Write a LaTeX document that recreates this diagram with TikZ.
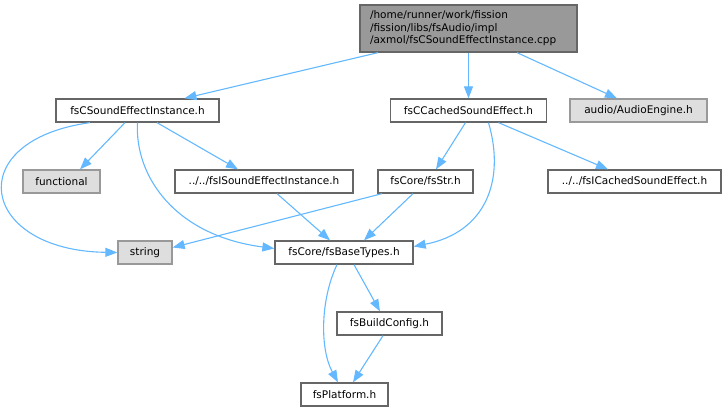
\documentclass[tikz,border=0pt]{standalone}
\usepackage{fontspec}
\setmainfont{DejaVu Sans}
\usetikzlibrary{arrows.meta}
\definecolor{inclblue}{HTML}{63B8FF}
\definecolor{boxgray}{HTML}{666666}
\definecolor{sysgray}{HTML}{999999}
\definecolor{sysfill}{HTML}{DEDEDE}
\begin{document}
\begin{tikzpicture}[x=1pt, y=-1pt,
    hfile/.style={rectangle, draw=boxgray, fill=white, line width=1.3pt, minimum height=23pt, inner sep=0pt, font=\fontsize{10.5}{12.5}\selectfont},
    sysfile/.style={hfile, draw=sysgray, fill=sysfill},
    incl/.style={draw=inclblue, line width=1.1pt, -{Triangle[length=12pt, width=9pt]}}]
      \useasboundingbox (0,0) rectangle (726,411);

      \node[hfile, fill=sysgray, minimum width=217pt, minimum height=47pt, text width=197pt, align=left] (cpp) at (468.5, 28.5) {/home/runner/work/fission\\/fission/libs/fsAudio/impl\\/axmol/fsCSoundEffectInstance.cpp};

      \node[hfile, minimum width=163pt] (csei) at (137.5, 110.5) {fsCSoundEffectInstance.h};
      \node[hfile, minimum width=156pt] (ccse) at (468.5, 110.5) {fsCCachedSoundEffect.h};
      \node[sysfile, minimum width=137pt] (engine) at (638.5, 110.5) {audio/AudioEngine.h};

      \node[sysfile, minimum width=77pt] (functional) at (61.5, 181.5) {functional};
      \node[hfile, minimum width=178pt] (isei) at (264, 181.5) {../../fsISoundEffectInstance.h};
      \node[hfile, minimum width=95pt] (fsstr) at (425.5, 181.5) {fsCore/fsStr.h};
      \node[hfile, minimum width=173pt] (icse) at (634.5, 181.5) {../../fsICachedSoundEffect.h};

      \node[sysfile, minimum width=54pt] (string) at (145, 252.5) {string};
      \node[hfile, minimum width=138pt] (basetypes) at (344, 252.5) {fsCore/fsBaseTypes.h};
      \node[hfile, minimum width=105pt] (buildcfg) at (389.5, 323.5) {fsBuildConfig.h};
      \node[hfile, minimum width=87pt] (platform) at (344.5, 394.5) {fsPlatform.h};

      \path ([xshift=-90.5pt]cpp.south) edge[incl] ([xshift=47pt]csei.north);
      \path (cpp.south) edge[incl] (ccse.north);
      \path ([xshift=48.5pt]cpp.south) edge[incl] ([xshift=-21.5pt]engine.north);

      \draw[incl] ([xshift=-47.5pt]csei.south) .. controls +(-130,18) and +(-138,-2) .. (string.west);
      \path ([xshift=-12.5pt]csei.south) edge[incl] ([xshift=18.5pt]functional.north);
      \draw[incl] (csei.south) .. controls +(-3,53) and +(-100,-13) .. ([yshift=4pt]basetypes.west);
      \path ([xshift=19.5pt]csei.south) edge[incl] ([xshift=-26pt]isei.north);

      \path ([xshift=-3pt]ccse.south) edge[incl] ([xshift=10.5pt]fsstr.north);
      \draw[incl] ([xshift=20pt]ccse.south) .. controls +(17,58) and +(72,-14) .. ([yshift=6pt]basetypes.east);
      \path ([xshift=30pt]ccse.south) edge[incl] ([xshift=-26.5pt]icse.north);

      \path ([xshift=13pt]isei.south) edge[incl] ([xshift=-14pt]basetypes.north);
      \path ([xshift=-43.5pt]fsstr.south) edge[incl] ([yshift=5pt]string.east);
      \path ([xshift=-12.5pt]fsstr.south) edge[incl] ([xshift=20pt]basetypes.north);

      \path ([xshift=10pt]basetypes.south) edge[incl] ([xshift=-9.5pt]buildcfg.north);
      \draw[incl] ([xshift=-7pt]basetypes.south) .. controls +(-17,36) and +(-18,-33) .. ([xshift=-6.5pt]platform.north);
      \path ([xshift=-6.5pt]buildcfg.south) edge[incl] ([xshift=8.5pt]platform.north);
\end{tikzpicture}
\end{document}
